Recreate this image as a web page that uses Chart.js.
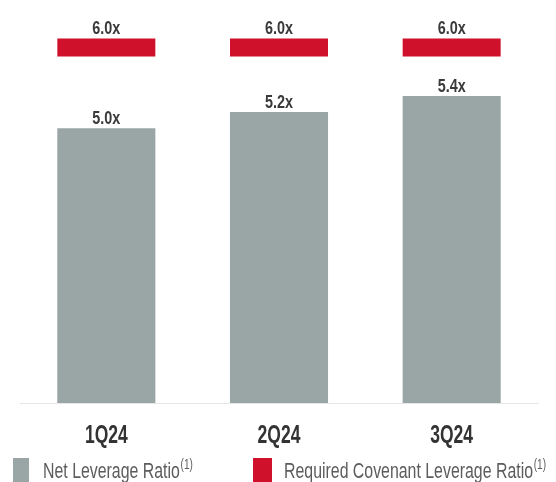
<!DOCTYPE html>
<html><head><meta charset="utf-8">
<script src="https://cdn.jsdelivr.net/npm/chart.js@4/dist/chart.umd.min.js"></script>
<style>
html,body{margin:0;padding:0;background:#fff;}
#wrap{position:relative;width:556px;height:482px;overflow:hidden;}
canvas{position:absolute;left:0;top:0;}
.lg{position:absolute;top:458px;font-family:"Liberation Sans",Arial,sans-serif;font-size:22px;color:#5c5c5c;white-space:nowrap;line-height:26px;transform:scaleX(0.722);transform-origin:0 0;}
.sw{position:absolute;top:458px;height:24px;}
.lg sup{font-size:14px;line-height:0;vertical-align:top;position:relative;top:6px;margin-left:1px;}
</style></head>
<body><div id="wrap"><canvas id="c" width="556" height="482"></canvas>
<div class="sw" id="s1" style="left:13px;width:16px;"></div>
<div class="lg" id="l1" style="left:43px"></div>
<div class="sw" id="s2" style="left:253px;width:19px;"></div>
<div class="lg" id="l2" style="left:284px"></div>
</div>
<script>
const categories = ['1Q24', '2Q24', '3Q24'];
const netLeverage = [5.0, 5.2, 5.4];
const requiredCovenant = [6.0, 6.0, 6.0];
const seriesNames = ['Net Leverage Ratio', 'Required Covenant Leverage Ratio'];
const footnote = '(1)';

const GRAY = '#9aa5a5';
const RED = '#d0112b';
const FONT = '"Liberation Sans", Arial, sans-serif';

document.getElementById('s1').style.background = GRAY;
document.getElementById('s2').style.background = RED;
document.getElementById('l1').innerHTML = seriesNames[0] + '<sup>' + footnote + '</sup>';
document.getElementById('l2').innerHTML = seriesNames[1] + '<sup>' + footnote + '</sup>';

// narrow text helper (reference uses a condensed face)
function narrowText(ctx, text, x, y, sx) {
  ctx.save();
  ctx.translate(x, y);
  ctx.scale(sx, 1);
  ctx.fillText(text, 0, 0);
  ctx.restore();
}

const valueLabels = {
  id: 'valueLabels',
  afterDatasetsDraw(chart) {
    const ctx = chart.ctx;
    ctx.save();
    ctx.font = 'bold 18px ' + FONT;
    ctx.fillStyle = '#3a3a3a';
    ctx.textAlign = 'center';
    ctx.textBaseline = 'alphabetic';
    chart.data.datasets.forEach((ds, i) => {
      const meta = chart.getDatasetMeta(i);
      meta.data.forEach((el, j) => {
        const top = ds.type === 'bar' ? el.y : el.y - ds.pointBorderWidth / 2;
        narrowText(ctx, ds.data[j].toFixed(1) + 'x', el.x, top - 4, 0.8);
      });
    });
    ctx.restore();
  }
};

const categoryLabels = {
  id: 'categoryLabels',
  afterDraw(chart) {
    const ctx = chart.ctx;
    const xs = chart.scales.x;
    ctx.save();
    ctx.font = 'bold 25px ' + FONT;
    ctx.fillStyle = '#333333';
    ctx.textAlign = 'center';
    ctx.textBaseline = 'alphabetic';
    xs.ticks.forEach((t, i) => {
      narrowText(ctx, xs.getLabelForValue(t.value), xs.getPixelForTick(i), chart.chartArea.bottom + 40, 0.70);
    });
    ctx.restore();
  }
};

new Chart(document.getElementById('c'), {
  data: {
    labels: categories,
    datasets: [
      {
        type: 'line',
        label: seriesNames[1],
        data: requiredCovenant,
        showLine: false,
        pointStyle: 'line',
        pointRadius: 49,
        pointHoverRadius: 49,
        pointBorderWidth: 18,
        pointHoverBorderWidth: 18,
        borderColor: RED,
        backgroundColor: RED
      },
      {
        type: 'bar',
        label: seriesNames[0],
        data: netLeverage,
        backgroundColor: GRAY,
        categoryPercentage: 1,
        barPercentage: 0.568
      }
    ]
  },
  options: {
    responsive: false,
    animation: false,
    events: [],
    layout: { autoPadding: false, padding: { left: 20, right: 18, top: 3, bottom: 79 } },
    plugins: { legend: { display: false }, tooltip: { enabled: false } },
    scales: {
      x: {
        offset: true,
        grid: { display: false, drawTicks: false },
        border: { display: true, color: '#e6e6e6', width: 1 },
        ticks: { display: false }
      },
      y: { display: false, min: 1.6, max: 6.55 }
    }
  },
  plugins: [valueLabels, categoryLabels]
});
</script>
</body></html>
